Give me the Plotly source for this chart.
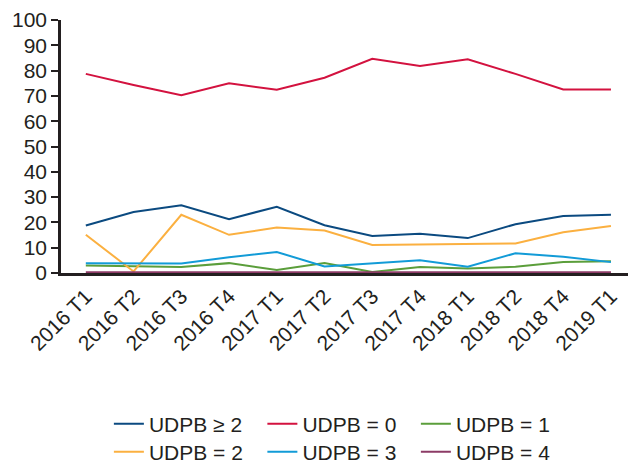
import plotly.graph_objs as go

quarters = ['2016 T1', '2016 T2', '2016 T3', '2016 T4', '2017 T1', '2017 T2',
            '2017 T3', '2017 T4', '2018 T1', '2018 T2', '2018 T4', '2019 T1']

udpb_ge2 = [18.8, 24.1, 26.8, 21.3, 26.2, 18.9, 14.6, 15.5, 13.8, 19.3, 22.5, 23.0]
udpb_0 = [78.7, 74.3, 70.3, 75.0, 72.4, 77.2, 84.7, 81.8, 84.5, 78.7, 72.5, 72.5]
udpb_1 = [3.0, 2.6, 2.4, 3.9, 1.2, 3.9, 0.4, 2.4, 1.8, 2.5, 4.3, 4.6]
udpb_2 = [15.1, 0.6, 23.0, 15.1, 18.0, 16.8, 11.1, 11.2, 11.4, 11.7, 16.1, 18.6]
udpb_3 = [3.9, 3.9, 3.8, 6.2, 8.3, 2.6, 3.7, 5.0, 2.5, 7.8, 6.4, 4.3]
udpb_4 = [0.3, 0.3, 0.3, 0.3, 0.3, 0.3, 0.3, 0.3, 0.3, 0.3, 0.3, 0.3]

# (name, values, colour, legend row)
series = [
    ('UDPB ≥ 2', udpb_ge2, '#0b4a80', 'legend'),
    ('UDPB = 0', udpb_0, '#d3123f', 'legend'),
    ('UDPB = 1', udpb_1, '#5b9e3b', 'legend'),
    ('UDPB = 2', udpb_2, '#fbb040', 'legend2'),
    ('UDPB = 3', udpb_3, '#129bd7', 'legend2'),
    ('UDPB = 4', udpb_4, '#8c3b66', 'legend2'),
]

ink = '#231f20'
font_family = 'Liberation Sans, Arial, sans-serif'

traces = []
for name, values, color, leg in series:
    traces.append(go.Scatter(
        x=quarters, y=values, name=name, mode='lines', legend=leg,
        line=dict(color=color, width=2)))

# page body has an 8px margin, so the figure is offset a little
legend_style = dict(orientation='h', x=0.084, xanchor='left', yanchor='middle',
                    entrywidth=108.5, entrywidthmode='pixels',
                    font=dict(size=21, color=ink))

fig = go.Figure(data=traces, layout=go.Layout(
    width=636, height=463,
    margin=dict(l=53, r=13, t=12, b=198, autoexpand=False),
    paper_bgcolor='white', plot_bgcolor='white',
    font=dict(family=font_family, size=21, color=ink),
    showlegend=True,
    legend=dict(y=-0.597, **legend_style),
    legend2=dict(y=-0.708, **legend_style),
    xaxis=dict(type='category', range=[-0.52, 11.42], tickangle=-45,
               showgrid=False, zeroline=False, automargin=False,
               showline=True, linecolor=ink, linewidth=2.5,
               ticks='', tickfont=dict(size=21, color=ink)),
    yaxis=dict(range=[0, 100], dtick=10, showgrid=False, zeroline=False,
               automargin=False,
               showline=True, linecolor=ink, linewidth=2.5,
               ticks='outside', ticklen=7, tickwidth=1.5, tickcolor=ink,
               tickfont=dict(size=21, color=ink)),
))

fig.write_html("out.html")
